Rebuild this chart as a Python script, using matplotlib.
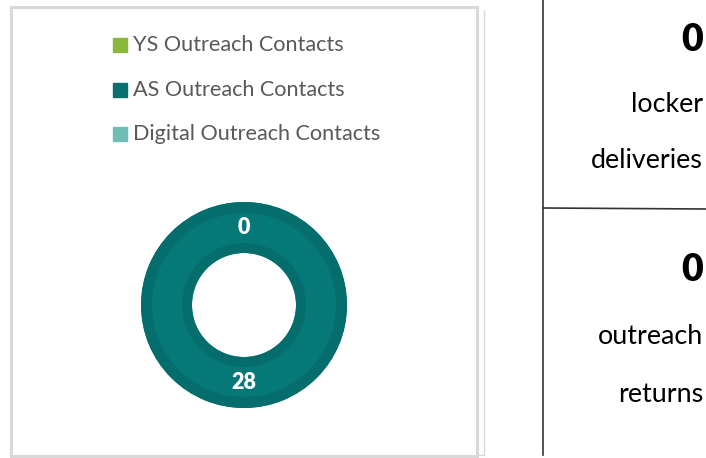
import matplotlib.pyplot as plt
from matplotlib.patches import Rectangle, Wedge
import numpy as np

# dati
categories = ['YS Outreach Contacts', 'AS Outreach Contacts', 'Digital Outreach Contacts']
values = [0, 28, 0]
colors = ['#8ab83a', '#0a6f6f', '#6fbdb5']

kpi_values = [0, 0]
kpi_labels = [['locker', 'deliveries'], ['outreach', 'returns']]

plt.rcParams['font.family'] = ['Lato', 'DejaVu Sans']

W, H = 706, 458
fig = plt.figure(figsize=(W / 100, H / 100), dpi=100)
ax = fig.add_axes([0, 0, 1, 1])
ax.set_xlim(0, W)
ax.set_ylim(H, 0)
ax.axis('off')

# cornice del grafico
ax.add_patch(Rectangle((10.5, 6.5), 466, 449, fill=False, ec='#d9d9d9', lw=2.2))
ax.plot([484, 484, 477], [10, 455, 455], color='#d9d9d9', lw=1)

# legenda
for k, (c, col) in enumerate(zip(categories, colors)):
    y = 45 + k * 44.5
    ax.add_patch(Rectangle((113, y - 7), 14, 14, color=col))
    ax.text(133, y, c, fontsize=15.6, color='#595959', va='center', ha='left')

# ciambella
cx, cy, R, r = 244, 305, 103, 52
total = sum(values)
main_col = '#077878'
dark_col = '#066d6d'
start = 90
for v in values:
    ang = v / total * 360
    if ang > 0:
        ax.add_patch(Wedge((cx, cy), R, start - ang, start, width=R - r,
                           color=main_col, lw=0))
    start -= ang
# bordi scuri
ax.add_patch(Wedge((cx, cy), R, 0, 360, width=11, color=dark_col, lw=0))
ax.add_patch(Wedge((cx, cy), r + 10, 0, 360, width=10, color=dark_col, lw=0))

# etichette
start = 90
rm = (R + r) / 2
for v in values[:2]:
    ang = v / total * 360
    mid = np.deg2rad(start - ang / 2)
    ax.text(cx + rm * np.cos(mid), cy - rm * np.sin(mid), str(v), color='white',
            fontsize=15.5, fontweight='heavy', ha='center', va='center')
    start -= ang

# pannello a destra
ax.plot([543, 543], [0, 455], color='#333333', lw=1.2)
ax.plot([543, 706], [208, 209], color='#333333', lw=1.2)
tops = [40, 270]
rows = [[104, 161], [337, 394]]
for k in range(2):
    ax.text(703, tops[k], str(kpi_values[k]), fontsize=27, fontweight='heavy',
            ha='right', va='center', color='black')
    for j, t in enumerate(kpi_labels[k]):
        ax.text(703, rows[k][j], t, fontsize=19.4, ha='right', va='center',
                color='black')

fig.savefig('out.png', dpi=100)
